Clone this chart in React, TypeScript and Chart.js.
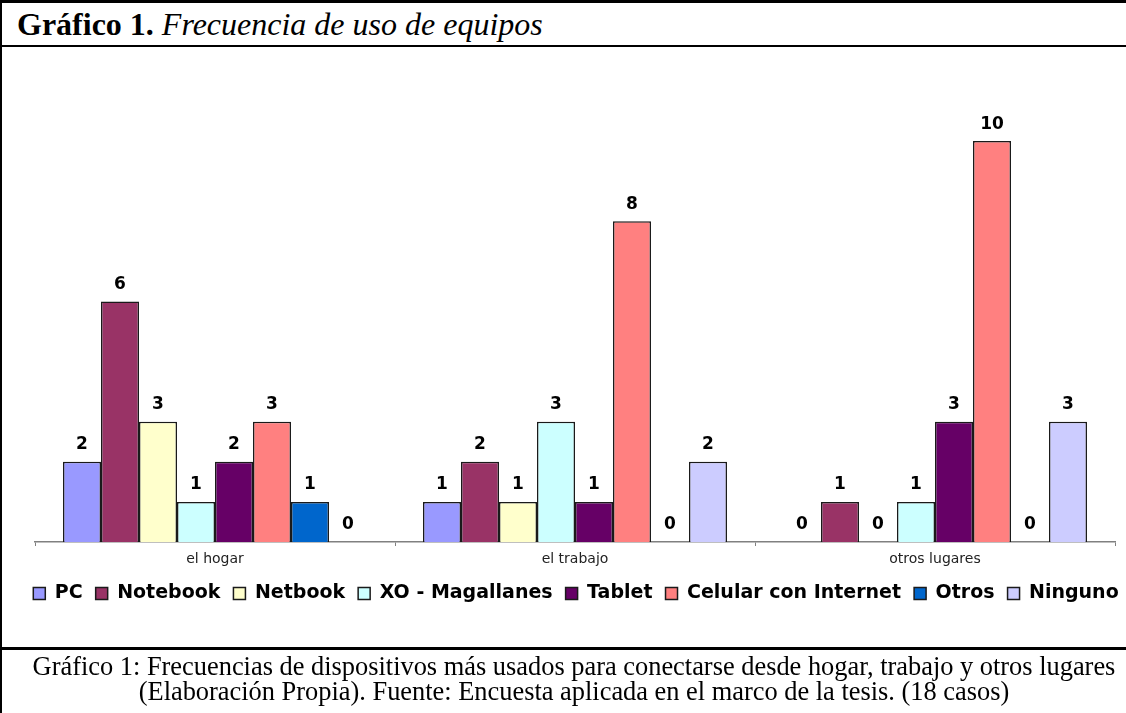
import React, { useEffect, useRef } from "react";
import { Chart, registerables } from "chart.js";

Chart.register(...registerables);

const categories = ["el hogar", "el trabajo", "otros lugares"];
const seriesNames = ["PC", "Notebook", "Netbook", "XO - Magallanes", "Tablet", "Celular con Internet", "Otros", "Ninguno"];
const seriesColors = ["#9999FF", "#993366", "#FFFFCC", "#CCFFFF", "#660066", "#FF8080", "#0066CC", "#CCCCFF"];
const pcValues = [2, 1, 0];
const notebookValues = [6, 2, 1];
const netbookValues = [3, 1, 0];
const xoValues = [1, 3, 1];
const tabletValues = [2, 1, 3];
const celularValues = [3, 8, 10];
const otrosValues = [1, 0, 0];
const ningunoValues = [0, 2, 3];
const seriesValues = [pcValues, notebookValues, netbookValues, xoValues, tabletValues, celularValues, otrosValues, ningunoValues];

const valueLabels = {
  id: "valueLabels",
  afterDatasetsDraw(chart: any) {
    const ctx = chart.ctx;
    ctx.save();
    ctx.font = "bold 17px 'DejaVu Sans'";
    ctx.fillStyle = "#000";
    ctx.textAlign = "center";
    ctx.textBaseline = "middle";
    chart.data.datasets.forEach((ds: any, i: number) => {
      const meta = chart.getDatasetMeta(i);
      meta.data.forEach((el: any, j: number) => {
        ctx.fillText(String(ds.data[j]), el.x, el.y - 17);
      });
    });
    ctx.restore();
  },
};

const spacerAxis = (position: string, width: number) => ({
  type: "linear",
  position,
  display: true,
  grid: { display: false },
  border: { display: false },
  ticks: { display: false },
  afterFit: (s: any) => { s.width = width; },
});

const CANVAS_W = 1152;

export default function App() {
  const ref = useRef<HTMLCanvasElement>(null);
  useEffect(() => {
    document.body.style.margin = "0";
    const chart = new Chart(ref.current!, {
      type: "bar",
      data: {
        labels: categories,
        datasets: seriesNames.map((n, i) => ({
          label: n,
          data: seriesValues[i],
          backgroundColor: seriesColors[i],
          borderColor: "#1a1a1a",
          borderWidth: 1.5,
          categoryPercentage: 0.8444,
          barPercentage: 1,
        })),
      },
      options: {
        animation: false,
        responsive: false,
        maintainAspectRatio: false,
        layout: { padding: { left: 0, right: 0, top: 53, bottom: 33 } },
        plugins: {
          tooltip: { enabled: false },
          legend: {
            position: "bottom",
            labels: {
              boxWidth: 12,
              boxHeight: 12,
              padding: 13,
              color: "#000",
              font: { family: "'DejaVu Sans'", size: 19, weight: "bold" },
            },
          },
        },
        scales: {
          x: {
            grid: { display: true, drawOnChartArea: false, drawTicks: true, tickLength: 4, color: "#808080", offset: true },
            border: { display: true, color: "#808080", width: 1.5 },
            ticks: { color: "#222", padding: 5, font: { family: "'DejaVu Sans'", size: 14 } },
            afterFit: (s: any) => { s.height = 29; },
          },
          y: { ...spacerAxis("left", 35), min: 0, max: 11 },
          yRight: { ...spacerAxis("right", CANVAS_W - 1115), min: 0, max: 11 },
        } as any,
      },
      plugins: [valueLabels],
    });
    return () => chart.destroy();
  }, []);

  return (
    <div style={{ position: "absolute", left: 0, top: 0, width: 1126, height: 713, background: "#fff", overflow: "hidden" }}>
      <canvas ref={ref} width={CANVAS_W} height={598} style={{ position: "absolute", left: 0, top: 48, width: CANVAS_W, height: 598 }} />
      <div style={{ position: "absolute", left: 0, top: 0, width: 2, height: 713, background: "#000" }} />
      <div style={{ position: "absolute", left: 0, top: 0, width: 1126, height: 3, background: "#000" }} />
      <div style={{ position: "absolute", left: 0, top: 45, width: 1126, height: 2, background: "#000" }} />
      <div style={{ position: "absolute", left: 0, top: 647, width: 1126, height: 3, background: "#000" }} />
      <div style={{ position: "absolute", left: 17, top: 7, lineHeight: "34px", fontSize: 32, fontFamily: "'Liberation Serif'", whiteSpace: "nowrap", color: "#000" }}>
        <b>Gráfico 1.</b> <i>Frecuencia de uso de equipos</i>
      </div>
      <div style={{ position: "absolute", left: 0, top: 654, width: 1148, textAlign: "center", lineHeight: "25px", fontSize: 26.4, fontFamily: "'Liberation Serif'", color: "#000", whiteSpace: "nowrap" }}>
        Gráfico 1: Frecuencias de dispositivos más usados para conectarse desde hogar, trabajo y otros lugares<br />
        (Elaboración Propia). Fuente: Encuesta aplicada en el marco de la tesis. (18 casos)
      </div>
    </div>
  );
}
